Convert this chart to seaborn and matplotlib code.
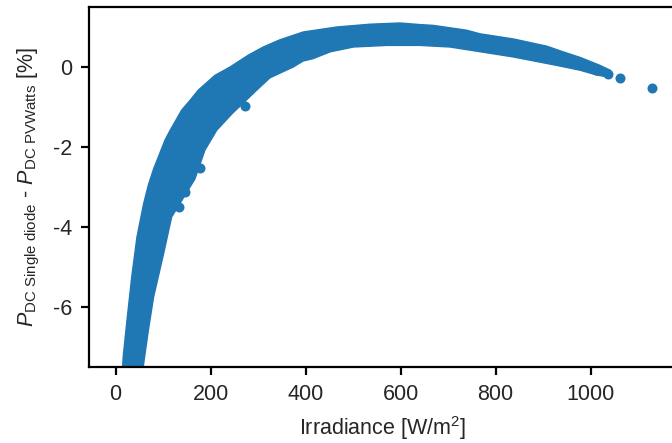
import matplotlib
matplotlib.use("Agg")
import matplotlib.pyplot as plt
import seaborn as sns
import pandas as pd

# Upper (top/left) envelope of the dense scatter band (outer edge), bottom-left to right tip
upper_x = [14, 16, 24, 34, 45, 59, 69, 80, 104, 115, 139, 157, 174, 209, 241, 280, 311, 346, 395, 466, 536, 599, 641, 669, 739, 767, 838, 908, 942, 978, 1020, 1041]
upper_y = [-7.7, -7.25, -6.33, -5.25, -4.25, -3.42, -2.95, -2.55, -1.83, -1.58, -1.08, -0.83, -0.58, -0.21, 0.0, 0.3, 0.5, 0.68, 0.875, 1.0, 1.07, 1.1, 1.06, 1.04, 0.92, 0.83, 0.7, 0.52, 0.38, 0.24, 0.04, -0.08]
# Lower (bottom/right) envelope, from the right tip back to the bottom
lower_x = [1041, 1037, 1013, 978, 929, 838, 774, 704, 641, 571, 501, 452, 416, 395, 374, 325, 297, 245, 213, 188, 167, 118, 101, 80, 69, 59, 57]
lower_y = [-0.2, -0.25, -0.2, -0.08, 0.04, 0.25, 0.37, 0.5, 0.54, 0.54, 0.5, 0.38, 0.21, 0.15, 0.0, -0.27, -0.58, -1.17, -1.58, -2.08, -2.8, -3.75, -4.67, -5.75, -6.58, -7.42, -7.7]
# Individual points sticking out of the band
point_x = [134, 146, 178, 272, 1012, 1037, 1062, 1129]
point_y = [-3.5, -3.13, -2.53, -0.98, -0.08, -0.17, -0.28, -0.53]

color = "#1f77b4"

sns.set_style("ticks")
plt.rcParams['font.family'] = ['Liberation Sans', 'DejaVu Sans']
plt.rcParams['mathtext.fontset'] = 'custom'
plt.rcParams['mathtext.rm'] = 'Liberation Sans'
plt.rcParams['mathtext.it'] = 'Liberation Sans:italic'
plt.rcParams['axes.unicode_minus'] = False

fig = plt.figure(figsize=(6.72, 4.43), dpi=100)
W, H = 672, 443
ax = fig.add_axes([89 / W, 1 - 367 / H, (676 - 89) / W, (367 - 7) / H])

poly_x = upper_x + lower_x
poly_y = upper_y + lower_y
ax.fill(poly_x, poly_y, color=color, linewidth=1.0, edgecolor=color, zorder=2)

df = pd.DataFrame({"x": point_x, "y": point_y})
sns.scatterplot(data=df, x="x", y="y", ax=ax, color=color, s=52, linewidth=0, zorder=3)

ax.set_xlim(-56, 1180)
ax.set_ylim(-7.5, 1.5)
ax.set_xticks([0, 200, 400, 600, 800, 1000])
ax.set_yticks([-6, -4, -2, 0])

ax.set_xlabel("Irradiance [W/m$^2$]", fontsize=15.5, labelpad=7)
ax.set_ylabel(r"$P_\mathregular{DC\ Single\ diode}$ - $P_\mathregular{DC\ PVWatts}$ [%]",
              fontsize=15.5, labelpad=8)

for s in ax.spines.values():
    s.set_linewidth(1.6)
    s.set_color("black")
ax.tick_params(axis="both", labelsize=15.5, length=6, width=1.6, pad=6,
               direction="out", color="black")

fig.savefig("out.png", dpi=100)
